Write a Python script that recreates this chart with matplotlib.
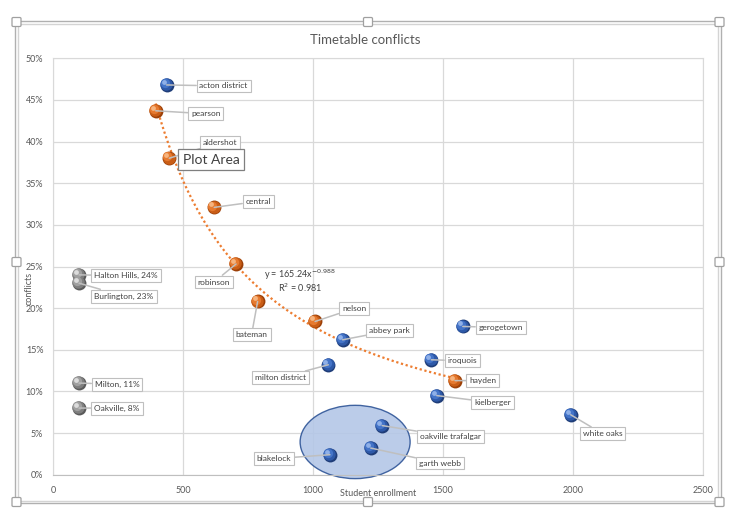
import matplotlib
matplotlib.use('Agg')
import matplotlib.pyplot as plt
import matplotlib.patches as patches
import matplotlib.transforms as mtransforms
from matplotlib.ticker import PercentFormatter
import numpy as np

plt.rcParams['font.family'] = ['Lato', 'DejaVu Sans']

# schools (blue), schools used for the trend (orange), regional averages (grey)
blue_names = ['acton district', 'abbey park', 'gerogetown', 'iroquois',
              'kielberger', 'white oaks', 'milton district',
              'oakville trafalgar', 'garth webb', 'blakelock']
blue_enroll = [437, 1114, 1576, 1455, 1476, 1991, 1059, 1266, 1222, 1065]
blue_conflicts = [0.468, 0.162, 0.178, 0.138, 0.095, 0.072, 0.132,
                  0.059, 0.032, 0.024]

orange_names = ['pearson', 'aldershot', 'central', 'robinson', 'bateman',
                'nelson', 'hayden']
orange_enroll = [395, 447, 620, 704, 787, 1008, 1546]
orange_conflicts = [0.437, 0.380, 0.321, 0.253, 0.208, 0.184, 0.113]

region_names = ['Halton Hills', 'Burlington', 'Milton', 'Oakville']
region_x = [100, 100, 100, 100]
region_conflicts = [0.24, 0.23, 0.11, 0.08]

x_ticks = [0, 500, 1000, 1500, 2000, 2500]
y_ticks = [0, 0.05, 0.10, 0.15, 0.20, 0.25, 0.30, 0.35, 0.40, 0.45, 0.50]

# label offsets in pixels (dx, dy down) from each point
blue_offsets = [(57, 1), (47, -9), (38, 1), (31, 1), (56, 7), (32, 19),
                (-48, 13), (68, 11), (69, 15), (-56, 4)]
orange_offsets = [(50, 3), (51, -16), (44, -6), (-22, 18), (-6, 33),
                  (39, -13), (28, 0)]
region_offsets = [(47, 1), (45, 13), (38, 1), (38, 0)]

W, H = 741, 523
GRID = '#d9d9d9'
TXT = '#595959'


def fx(x):
    return x / W


def fy(y):
    return 1 - y / H


def sphere(ax, fig, xs, ys, shades):
    """Fake the glossy 3D ball markers with stacked circles."""
    layers = [(100, 0.0, shades[0]), (80, -0.5, shades[1]),
              (45, -1.3, shades[2]), (12, -2.2, shades[3])]
    for s, off, c in layers:
        tr = mtransforms.offset_copy(ax.transData, fig=fig, x=off, y=-off,
                                     units='points')
        ax.scatter(xs, ys, s=s, color=c, linewidths=0, transform=tr,
                   zorder=6, clip_on=False)


def labels(ax, names, xs, ys, offsets):
    for name, x, y, (dx, dy) in zip(names, xs, ys, offsets):
        ax.annotate(name, (x, y), xytext=(dx, -dy),
                    textcoords='offset pixels', ha='center', va='center',
                    fontsize=6, color='#404040', zorder=7,
                    bbox=dict(boxstyle='square,pad=0.35', fc='white',
                              ec='#bfbfbf', lw=0.8),
                    arrowprops=dict(arrowstyle='-', color='#bfbfbf', lw=1.1,
                                    shrinkA=0, shrinkB=0))


fig = plt.figure(figsize=(W / 100, H / 100), dpi=100)
ax = fig.add_axes([fx(53), fy(474.7), fx(703 - 53), (474.7 - 58.3) / H])

ax.set_xlim(0, 2500)
ax.set_ylim(0, 0.5)
ax.set_xticks(x_ticks)
ax.set_yticks(y_ticks)
ax.yaxis.set_major_formatter(PercentFormatter(1.0, decimals=0))
ax.grid(True, color=GRID, lw=0.9)
ax.set_axisbelow(True)
for sp in ax.spines.values():
    sp.set_color(GRID)
ax.spines['bottom'].set_color('#bfbfbf')
ax.tick_params(length=0, labelsize=6.5, colors=TXT)
ax.tick_params(axis='x', pad=8)
ax.tick_params(axis='y', pad=7)

# power trendline over the orange schools
b, a = np.polyfit(np.log(orange_enroll), np.log(orange_conflicts), 1)
tx = np.linspace(min(orange_enroll), max(orange_enroll), 200)
ax.plot(tx, np.exp(a) * tx ** b, color='#ED7D31', lw=1.6,
        linestyle=(0, (1, 1.2)), zorder=3)

# highlight ellipse
ax.add_patch(patches.Ellipse((1162, 0.0393), 423, 0.088, fc='#b4c7e7',
                             ec='#2f5597', lw=1, alpha=0.9, zorder=2,
                             clip_on=False))

sphere(ax, fig, blue_enroll, blue_conflicts,
       ['#1f3d78', '#2e59a8', '#4474c8', '#8fb0e8'])
sphere(ax, fig, orange_enroll, orange_conflicts,
       ['#9c4008', '#c95d16', '#e67a30', '#f6b47f'])
sphere(ax, fig, region_x, region_conflicts,
       ['#5a5a5a', '#7f7f7f', '#a0a0a0', '#dcdcdc'])

labels(ax, blue_names, blue_enroll, blue_conflicts, blue_offsets)
labels(ax, orange_names, orange_enroll, orange_conflicts, orange_offsets)
region_labels = [f'{n}, {v:.0%}' for n, v in zip(region_names, region_conflicts)]
labels(ax, region_labels, region_x, region_conflicts, region_offsets)

fig.text(fx(300), fy(275), 'y = 165.24x$^{-0.988}$', ha='center', va='center',
         fontsize=6.5, color='#404040')
fig.text(fx(300), fy(288), 'R$^2$ = 0.981', ha='center', va='center',
         fontsize=6.5, color='#404040')

fig.text(fx(365), fy(40), 'Timetable conflicts', ha='center', va='center',
         fontsize=9.5, color=TXT)
fig.text(fx(378), fy(493), 'Student enrollment', ha='center', va='center',
         fontsize=6.5, color=TXT)
fig.text(fx(29), fy(288), 'conflicts', ha='center', va='center',
         rotation=90, fontsize=6.5, color=TXT)

# excel hover tooltip
fig.text(fx(211), fy(159.5), 'Plot Area', ha='center', va='center',
         fontsize=10, color='#404040', zorder=20,
         bbox=dict(boxstyle='square,pad=0.3', fc='white', ec='#7f7f7f',
                   lw=0.9))

# selected chart frame with handles
for (l, t, r, bt), c in [((15, 21, 721, 503), '#b0b0b0'),
                         ((18, 23.5, 718, 500.5), '#d4d4d4')]:
    fig.patches.append(patches.Rectangle((fx(l), fy(bt)), fx(r - l),
                                         (bt - t) / H, fill=False, ec=c,
                                         lw=1, transform=fig.transFigure))
for hx in (16.5, 368, 719.5):
    for hy in (22, 262, 502):
        if hx == 368 and hy == 262:
            continue
        fig.patches.append(patches.FancyBboxPatch(
            (fx(hx - 4.5), fy(hy + 4.5)), fx(9), 9 / H,
            boxstyle='round,pad=0,rounding_size=0.002', fc='white',
            ec='#a0a0a0', lw=0.9, transform=fig.transFigure, zorder=30))

fig.savefig('out.png', dpi=100)
